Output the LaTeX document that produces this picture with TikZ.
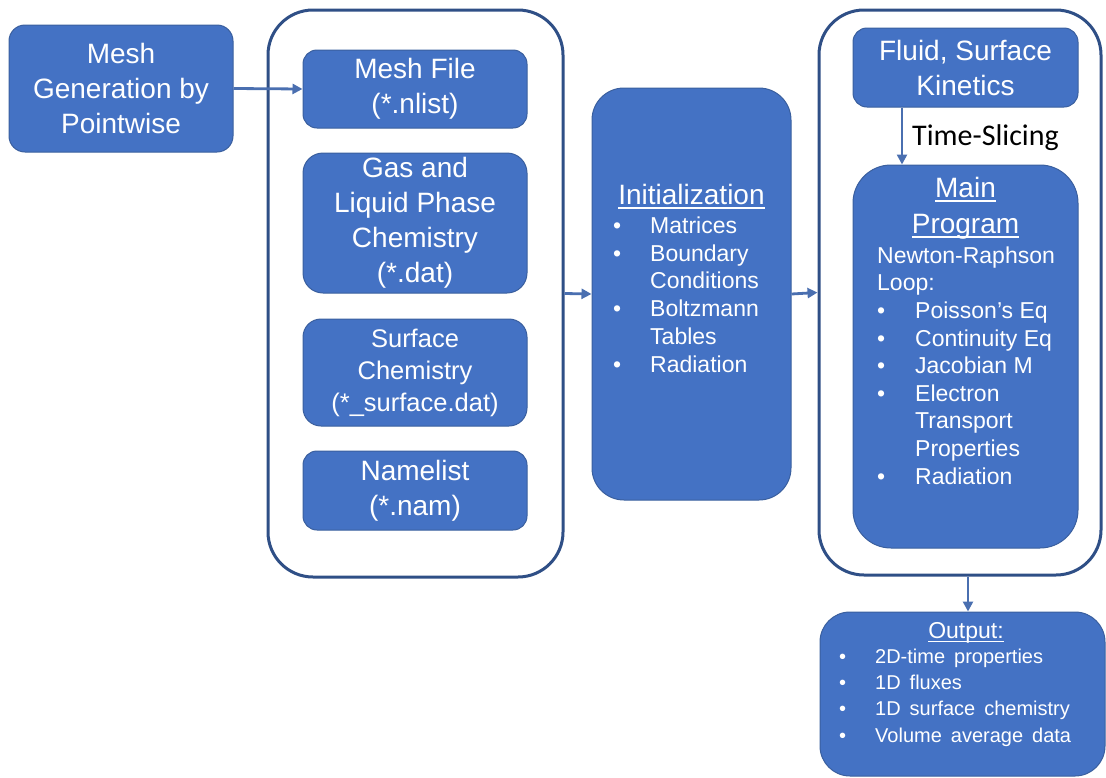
\documentclass[tikz,border=0pt]{standalone}
\usepackage{fontspec}
\setmainfont{Liberation Sans}
\newfontfamily\calfont{Carlito}
\usetikzlibrary{arrows.meta,calc}
\definecolor{boxblue}{HTML}{4472C4}
\definecolor{boxedge}{HTML}{3A5F9E}
\definecolor{contedge}{HTML}{2F4F86}
\definecolor{lineblue}{HTML}{4A6FB0}
\newcommand\ulin[1]{\leavevmode\setbox0\hbox{#1}\rlap{\rule[-0.17em]{\wd0}{0.06em}}\box0}
\newcommand\bul[1]{\makebox[#1][l]{•}}
\newcommand\widesp{\spaceskip=0.45em\relax}
\begin{document}
\begin{tikzpicture}[x=1pt,y=-1pt,
  box/.style={draw=boxedge, line width=1pt, fill=boxblue, text=white, align=center, inner sep=0pt},
  big/.style={font=\fontsize{28}{35}\selectfont},
  cont/.style={draw=contedge, line width=3pt, rounded corners=45pt, inner sep=0pt},
  conn/.style={draw=lineblue, line width=2.8pt, -{Triangle[length=10pt,width=10pt]}},
  wtxt/.style={text=white, inner sep=0pt},
]
\useasboundingbox (0,0) rectangle (1106,777);
\clip (0,0) rectangle (1106,777);

% containers
\node[cont, minimum width=295, minimum height=567] (cont1) at (415.5,293.5) {};
\node[cont, minimum width=282, minimum height=565] (cont2) at (960,292.5) {};

% left column
\node[box, big, rounded corners=16pt, minimum width=224, minimum height=127] (gen) at (121,88.5)
  {Mesh\\Generation by\\Pointwise};
\node[box, big, rounded corners=14pt, minimum width=224, minimum height=78] (meshfile) at (415,89)
  {Mesh File\\(*.nlist)};
\node[box, big, rounded corners=20pt, minimum width=224, minimum height=140] (gas) at (415,223)
  {Gas and\\Liquid Phase\\Chemistry\\(*.dat)};
\node[box, font=\fontsize{25.5}{32}\selectfont, rounded corners=18pt, minimum width=224, minimum height=107] (surf) at (415,372.5)
  {Surface\\Chemistry\\(*\_surface.dat)};
\node[box, big, rounded corners=14pt, minimum width=224, minimum height=79] (namel) at (415,490.5)
  {Namelist\\(*.nam)};

% initialization
\node[box, rounded corners=32pt, minimum width=199, minimum height=412] (init) at (691.5,294) {};
\node[wtxt, anchor=base, font=\fontsize{28}{35}\selectfont] (inittitle) at (691.5,204) {\ulin{Initialization}};
\node[wtxt, anchor=north west, align=left, font=\fontsize{23}{27.8}\selectfont] (initlist) at (613,210)
  {\rule{0pt}{23pt}\bul{37pt}Matrices\\
   \bul{37pt}Boundary\\
   \hspace*{37pt}Conditions\\
   \bul{37pt}Boltzmann\\
   \hspace*{37pt}Tables\\
   \bul{37pt}Radiation};

% right container content
\node[box, big, rounded corners=14pt, minimum width=225, minimum height=79] (fluid) at (965.5,67.5)
  {Fluid, Surface\\Kinetics};
\node[box, rounded corners=38pt, minimum width=225, minimum height=383] (main) at (965.5,356.5) {};
\node[wtxt, anchor=north, align=center, font=\fontsize{28}{36}\selectfont] (maintitle) at (965.5,169)
  {\rule{0pt}{28pt}\ulin{Main}\\\ulin{Program}};
\node[wtxt, anchor=north west, align=left, font=\fontsize{23}{27.6}\selectfont] (mainlist) at (877,240)
  {\rule{0pt}{23pt}Newton-Raphson\\
   Loop:\\
   \bul{38pt}Poisson’s Eq\\
   \bul{38pt}Continuity Eq\\
   \bul{38pt}Jacobian M\\
   \bul{38pt}Electron\\
   \hspace*{38pt}Transport\\
   \hspace*{38pt}Properties\\
   \bul{38pt}Radiation};
\node[anchor=base west, inner sep=0pt, font=\calfont\fontsize{30}{36}\selectfont] (tslabel) at (912,145) {Time-Slicing};

% output
\node[box, rounded corners=30pt, minimum width=285, minimum height=164] (output) at (962.5,694) {};
\node[wtxt, anchor=base, font=\fontsize{23}{28}\selectfont] (outtitle) at (966,638) {\ulin{Output:}};
\node[wtxt, anchor=north west, align=left, font=\fontsize{20}{26.3}\selectfont\widesp] (outlist) at (839,643)
  {\rule{0pt}{20pt}\bul{36pt}2D-time properties\\
   \bul{36pt}1D fluxes\\
   \bul{36pt}1D surface chemistry\\
   \bul{36pt}Volume average data};

% connectors
\draw[conn] (gen.east) -- (meshfile.west);
\draw[conn] (cont1.east) -- (init.west);
\draw[conn] (init.east) -- (cont2.west);
\coordinate (tsx) at (902,0);
\draw[conn] (fluid.south -| tsx) -- (main.north -| tsx);
\coordinate (outx) at (968,0);
\draw[conn] (cont2.south -| outx) -- (output.north -| outx);
\end{tikzpicture}
\end{document}
